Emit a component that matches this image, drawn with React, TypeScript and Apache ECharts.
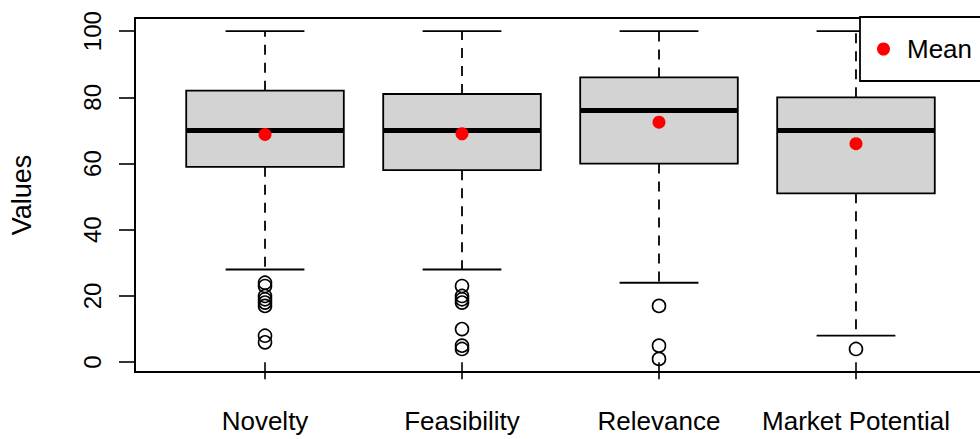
import React, { useEffect, useRef } from "react";
import * as echarts from "echarts";

const categories = ["Novelty", "Feasibility", "Relevance", "Market Potential"];
// [lowerWhisker, q1, median, q3, upperWhisker]
const boxStats = [
  [28, 59, 70, 82, 100],
  [28, 58, 70, 81, 100],
  [24, 60, 76, 86, 100],
  [8, 51, 70, 80, 100],
];
const means = [68.8, 69, 72.5, 66];
const outliers = [
  [24, 23, 20, 19, 18, 17, 8, 6],
  [23, 20, 19, 18, 10, 5, 4],
  [17, 5, 1],
  [4],
];
const yTicks = [0, 20, 40, 60, 80, 100];
const xTicks = [1, 2, 3, 4];

const FONT = "Liberation Sans, Arial, sans-serif";

export default function App() {
  const ref = useRef<HTMLDivElement>(null);
  useEffect(() => {
    if (!ref.current) return;
    const chart = echarts.init(ref.current, null, { renderer: "svg" });
    const boxData = boxStats.map((s, i) => [i + 1, ...s]);
    const meanData = means.map((m, i) => [i + 1, m]);
    const outData: number[][] = [];
    outliers.forEach((arr, i) => arr.forEach((v) => outData.push([i + 1, v])));

    chart.setOption({
      animation: false,
      backgroundColor: "#fff",
      textStyle: { fontFamily: FONT },
      grid: {
        left: 132,
        top: 18,
        width: 854,
        height: 354,
        show: true,
        borderColor: "#000",
        borderWidth: 1.8,
        backgroundColor: "transparent",
      },
      legend: {
        left: 860,
        top: 17,
        data: [{ name: "Mean", icon: "circle" }],
        itemWidth: 13,
        itemHeight: 13,
        backgroundColor: "#fff",
        borderColor: "#000",
        borderWidth: 1.8,
        borderRadius: 0,
        padding: [19, 40, 19, 17],
        textStyle: { fontSize: 26, color: "#000", fontFamily: FONT, padding: [0, 0, 0, 12] },
        z: 10,
      },
      xAxis: {
        type: "value",
        min: 0.34,
        max: 4.66,
        splitLine: { show: false },
        axisLine: { show: false },
        axisTick: {
          show: true,
          customValues: xTicks,
          length: 17,
          lineStyle: { color: "#000", width: 1.6 },
        },
        axisLabel: {
          customValues: xTicks,
          formatter: (v: number) => categories[Math.round(v) - 1] ?? "",
          fontSize: 26,
          color: "#000",
          margin: 36,
          fontFamily: FONT,
        },
      },
      yAxis: {
        type: "value",
        min: -2.96,
        max: 103.96,
        splitLine: { show: false },
        axisLine: { show: true, lineStyle: { color: "#000", width: 1.8 } },
        axisTick: {
          show: true,
          customValues: yTicks,
          length: 16,
          lineStyle: { color: "#000", width: 1.6 },
        },
        axisLabel: {
          customValues: yTicks,
          rotate: 90,
          fontSize: 24,
          color: "#000",
          margin: 31,
          fontFamily: FONT,
        },
        name: "Values",
        nameLocation: "middle",
        nameGap: 100,
        nameTextStyle: { fontSize: 27, color: "#000", fontFamily: FONT },
      },
      series: [
        {
          type: "custom",
          name: "boxes",
          data: boxData,
          encode: { x: 0, y: [1, 2, 3, 4, 5] },
          renderItem: (params: any, api: any) => {
            const x = api.value(0);
            const lo = api.value(1);
            const q1 = api.value(2);
            const med = api.value(3);
            const q3 = api.value(4);
            const hi = api.value(5);
            const c = (a: number, b: number) => api.coord([a, b]);
            const bw = 0.4;
            const cw = 0.2;
            const dash = { stroke: "#000", lineWidth: 1.8, lineDash: [10, 8], fill: null };
            const solid = { stroke: "#000", lineWidth: 1.8, fill: null };
            const pUpA = c(x, q3), pUpB = c(x, hi);
            const pLoA = c(x, q1), pLoB = c(x, lo);
            const tl = c(x - bw, q3), br = c(x + bw, q1);
            const mL = c(x - bw, med), mR = c(x + bw, med);
            const hL = c(x - cw, hi), hR = c(x + cw, hi);
            const lL = c(x - cw, lo), lR = c(x + cw, lo);
            return {
              type: "group",
              children: [
                { type: "line", shape: { x1: pUpA[0], y1: pUpA[1], x2: pUpB[0], y2: pUpB[1] }, style: dash },
                { type: "line", shape: { x1: pLoA[0], y1: pLoA[1], x2: pLoB[0], y2: pLoB[1] }, style: dash },
                { type: "line", shape: { x1: hL[0], y1: hL[1], x2: hR[0], y2: hR[1] }, style: solid },
                { type: "line", shape: { x1: lL[0], y1: lL[1], x2: lR[0], y2: lR[1] }, style: solid },
                {
                  type: "rect",
                  shape: { x: tl[0], y: tl[1], width: br[0] - tl[0], height: br[1] - tl[1] },
                  style: { fill: "#d3d3d3", stroke: "#000", lineWidth: 1.8 },
                },
                { type: "line", shape: { x1: mL[0], y1: mL[1], x2: mR[0], y2: mR[1] }, style: { stroke: "#000", lineWidth: 5 } },
              ],
            };
          },
          z: 2,
        },
        {
          type: "scatter",
          name: "Outliers",
          data: outData,
          symbol: "circle",
          symbolSize: 13,
          itemStyle: { color: "transparent", borderColor: "#000", borderWidth: 1.6, opacity: 1 },
          z: 3,
        },
        {
          type: "scatter",
          name: "Mean",
          data: meanData,
          symbol: "circle",
          symbolSize: 13,
          itemStyle: { color: "#ff0000", opacity: 1 },
          z: 4,
        },
      ],
    });
    return () => chart.dispose();
  }, []);
  return (
    <div
      ref={ref}
      style={{ position: "fixed", left: 0, top: 0, width: 1000, height: 439, background: "#fff" }}
    />
  );
}
